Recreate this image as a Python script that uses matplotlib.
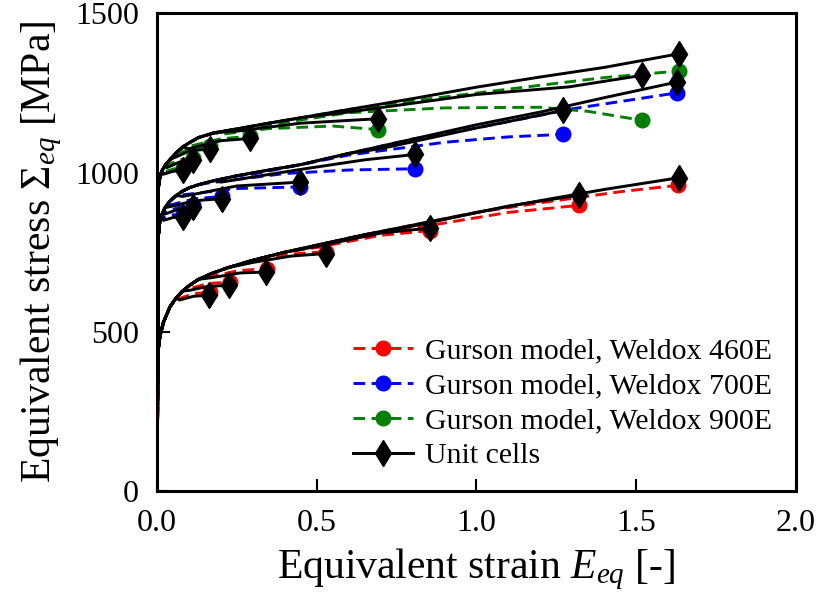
import matplotlib
matplotlib.use("Agg")
import matplotlib.pyplot as plt
from matplotlib.lines import Line2D

plt.rcParams['font.family'] = ['Liberation Serif', 'DejaVu Serif']
plt.rcParams['mathtext.fontset'] = 'custom'
plt.rcParams['mathtext.rm'] = 'Liberation Serif'
plt.rcParams['mathtext.it'] = 'Liberation Serif:italic'

# ---------------- Weldox 460E ----------------
env_eps_460 = [0, 0.003, 0.006, 0.01, 0.02, 0.04, 0.06, 0.08, 0.1, 0.13, 0.17, 0.22, 0.3, 0.4, 0.5, 0.65, 0.8, 1.0, 1.2, 1.4, 1.635]
env_sig_460 = [0, 430, 465, 490, 530, 578, 607, 628, 645, 665, 683, 701, 725, 750, 772, 805, 835, 875, 912, 947, 986]
uc_tail_eps_460 = [[0.07, 0.115, 0.163], [0.10, 0.16, 0.226], [0.17, 0.26, 0.341], [0.30, 0.42, 0.528],
                   [0.50, 0.70, 0.856], [0.80, 1.10, 1.32], [1.635]]
uc_tail_sig_460 = [[600, 612, 615], [630, 643, 646], [670, 685, 688], [718, 738, 746],
                   [768, 810, 826], [832, 895, 929], [984]]
gu_tail_eps_460 = [[0.07, 0.115, 0.165], [0.10, 0.16, 0.228], [0.17, 0.26, 0.343], [0.30, 0.42, 0.53],
                   [0.50, 0.70, 0.856], [0.80, 1.10, 1.32], [1.20, 1.45, 1.63]]
gu_tail_sig_460 = [[605, 620, 625], [635, 652, 656], [675, 693, 698], [722, 744, 752],
                   [765, 803, 818], [825, 875, 897], [905, 940, 960]]

# ---------------- Weldox 700E ----------------
env_eps_700 = [0, 0.004, 0.008, 0.015, 0.025, 0.04, 0.06, 0.08, 0.1, 0.13, 0.18, 0.25, 0.35, 0.45, 0.6, 0.8, 1.0, 1.2, 1.4, 1.627]
env_sig_700 = [0, 800, 840, 868, 890, 910, 928, 942, 952, 962, 975, 990, 1008, 1025, 1060, 1105, 1150, 1190, 1235, 1284]
uc_tail_eps_700 = [[0.02, 0.05, 0.082], [0.025, 0.07, 0.113], [0.04, 0.12, 0.202], [0.08, 0.25, 0.447],
                   [0.2, 0.45, 0.65, 0.809], [0.7, 1.0, 1.272], [1.627]]
uc_tail_sig_700 = [[850, 859, 861], [870, 886, 892], [893, 912, 918], [925, 958, 970],
                   [970, 1010, 1040, 1057], [1075, 1140, 1195], [1284]]
gu_tail_eps_700 = [[0.02, 0.05, 0.08], [0.025, 0.07, 0.113], [0.04, 0.12, 0.202], [0.08, 0.25, 0.447],
                   [0.15, 0.4, 0.6, 0.809], [0.3, 0.6, 0.9, 1.1, 1.272], [1.0, 1.3, 1.627]]
gu_tail_sig_700 = [[858, 867, 870], [875, 892, 898], [898, 918, 925], [930, 950, 955],
                   [966, 997, 1008, 1012], [995, 1055, 1095, 1112, 1120], [1140, 1200, 1250]]

# ---------------- Weldox 900E ----------------
env_eps_900 = [0, 0.004, 0.008, 0.015, 0.025, 0.04, 0.06, 0.08, 0.1, 0.13, 0.18, 0.25, 0.35, 0.45, 0.6, 0.8, 1.0, 1.2, 1.4, 1.635]
env_sig_900 = [0, 950, 980, 1005, 1022, 1040, 1062, 1080, 1093, 1110, 1125, 1137, 1155, 1172, 1198, 1232, 1268, 1300, 1330, 1373]
uc_tail_eps_900 = [[0.02, 0.05, 0.082], [0.03, 0.07, 0.113], [0.05, 0.10, 0.166], [0.10, 0.20, 0.29],
                   [0.25, 0.45, 0.692], [0.6, 1.0, 1.29, 1.518], [1.635]]
uc_tail_sig_900 = [[995, 1004, 1007], [1015, 1033, 1039], [1045, 1067, 1075], [1075, 1100, 1107],
                   [1130, 1155, 1169], [1190, 1245, 1269, 1305], [1373]]
gu_tail_eps_900 = [[0.02, 0.05, 0.082], [0.03, 0.07, 0.113], [0.05, 0.10, 0.166], [0.10, 0.20, 0.29],
                   [0.2, 0.35, 0.55, 0.692], [0.35, 0.6, 0.9, 1.2, 1.35, 1.518], [0.8, 1.2, 1.4, 1.635]]
gu_tail_sig_900 = [[1000, 1011, 1015], [1022, 1040, 1046], [1052, 1074, 1082], [1082, 1106, 1114],
                   [1120, 1138, 1146, 1135], [1150, 1188, 1203, 1205, 1192, 1164], [1225, 1274, 1298, 1319]]

labels = ['Gurson model, Weldox 460E', 'Gurson model, Weldox 700E',
          'Gurson model, Weldox 900E', 'Unit cells']
colors = ['#ff0000', '#0000ff', '#008000']

materials = [
    (env_eps_460, env_sig_460, uc_tail_eps_460, uc_tail_sig_460, gu_tail_eps_460, gu_tail_sig_460),
    (env_eps_700, env_sig_700, uc_tail_eps_700, uc_tail_sig_700, gu_tail_eps_700, gu_tail_sig_700),
    (env_eps_900, env_sig_900, uc_tail_eps_900, uc_tail_sig_900, gu_tail_eps_900, gu_tail_sig_900),
]


def build(env_e, env_s, te, ts):
    xs = [e for e in env_e if e < te[0]] + list(te)
    ys = [s for e, s in zip(env_e, env_s) if e < te[0]] + list(ts)
    return xs, ys


DASH = (0, (4.0, 2.2))
LW = 2.1

fig = plt.figure(figsize=(8.18, 6.02), dpi=100)
ax = fig.add_axes([0.192, 0.184, 0.781, 0.794])

for col, (ee, es, ute, uts, gte, gts) in zip(colors, materials):
    for te, ts in zip(gte, gts):
        xs, ys = build(ee, es, te, ts)
        ax.plot(xs, ys, color=col, lw=LW, ls=DASH, zorder=2)
        ax.plot(xs[-1], ys[-1], 'o', color=col, ms=10.5, zorder=3)
for col, (ee, es, ute, uts, gte, gts) in zip(colors, materials):
    for te, ts in zip(ute, uts):
        xs, ys = build(ee, es, te, ts)
        ax.plot(xs, ys, color='black', lw=LW, zorder=4)
        ax.plot(xs[-1], ys[-1], 'd', color='black', ms=13.5, zorder=5)

ax.set_xlim(0, 2.0)
ax.set_ylim(0, 1500)
ax.set_xticks([0.0, 0.5, 1.0, 1.5, 2.0])
ax.set_xticklabels(['0.0', '0.5', '1.0', '1.5', '2.0'])
ax.set_yticks([0, 500, 1000, 1500])
ax.tick_params(direction='in', length=9, width=1.5, labelsize=23, pad=13)
for sp in ax.spines.values():
    sp.set_linewidth(2.2)

ax.set_xlabel(r'Equivalent strain $E_{eq}$ [-]', fontsize=30, labelpad=6)
ax.set_ylabel(r'Equivalent stress $\Sigma_{eq}$ [MPa]', fontsize=30, labelpad=8)

handles = [Line2D([], [], color=c, lw=LW, ls=DASH, marker='o', ms=10.5) for c in colors]
handles.append(Line2D([], [], color='black', lw=LW, marker='d', ms=13.5))
ax.legend(handles, labels, loc='lower right', bbox_to_anchor=(1.004, -0.01), frameon=False,
          fontsize=21.5, handlelength=2.0, handletextpad=0.4, labelspacing=0.27)

fig.savefig('out.png', dpi=100)
